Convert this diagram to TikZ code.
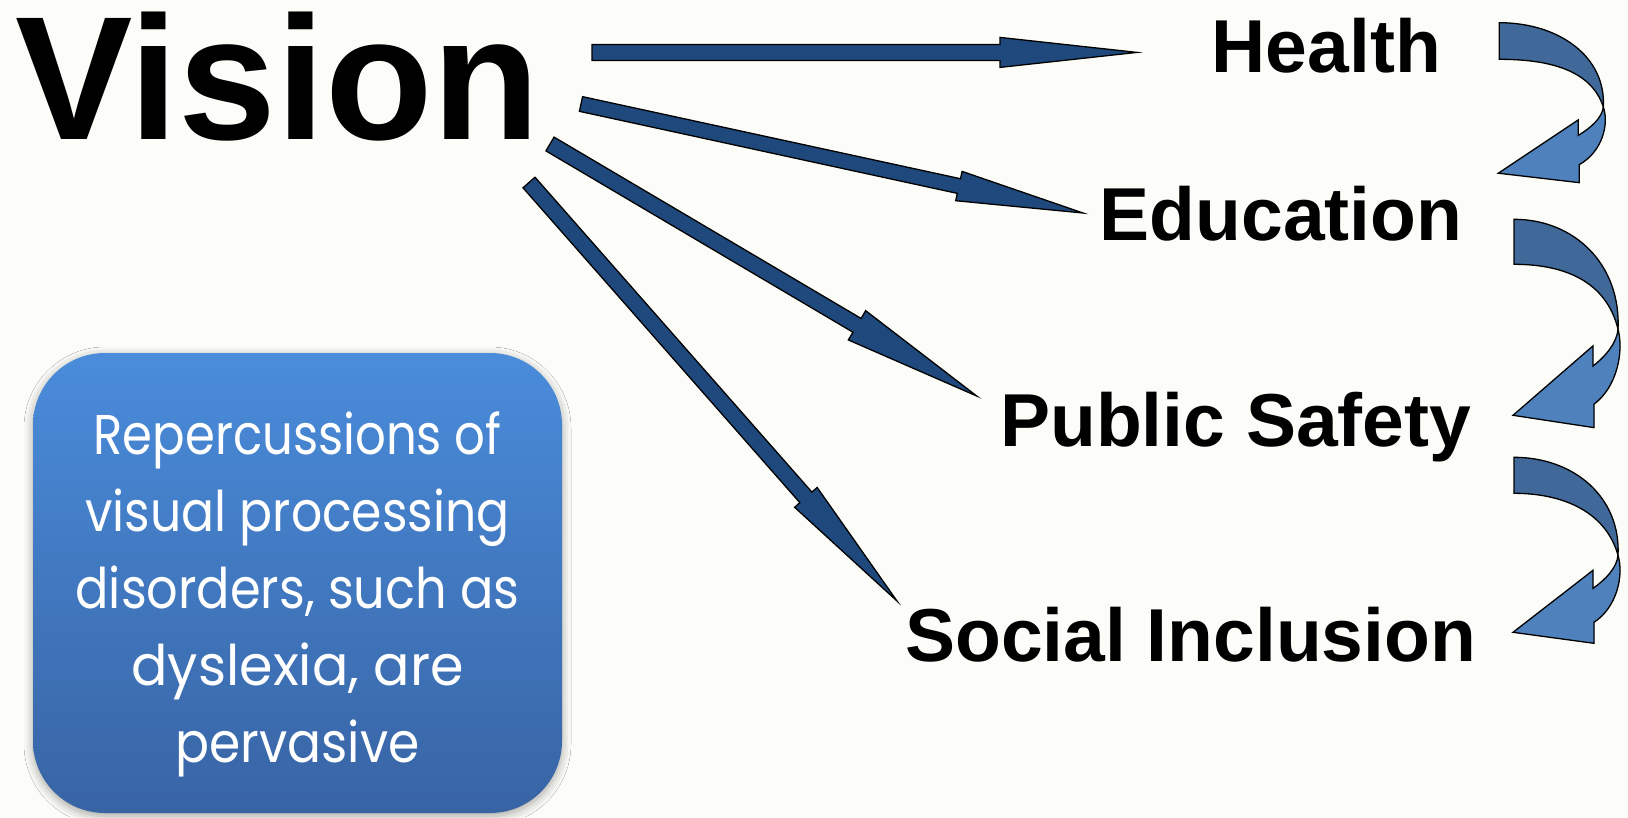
\documentclass[tikz,border=0pt]{standalone}
\usepackage{fontspec}
\setmainfont{Liberation Sans}
\newfontfamily\boxfont{Poppins}
\usetikzlibrary{calc,shadows.blur}

\definecolor{paper}{HTML}{FCFCF8}
\definecolor{shaftblue}{HTML}{1F497D}
\definecolor{ribbondark}{HTML}{406898}
\definecolor{ribbonlight}{HTML}{4F81BD}
\definecolor{boxtop}{HTML}{4A8CDB}
\definecolor{boxbottom}{HTML}{3864A4}

\tikzset{
  topic/.style={inner sep=0pt, anchor=base west, font=\bfseries\fontsize{75}{75}\selectfont},
  straight/.style={fill=shaftblue, draw=black, line width=1.3pt, line join=miter},
  ribbonback/.style={fill=ribbondark, draw=black, line width=1.3pt, line join=miter},
  ribbonfront/.style={fill=ribbonlight, draw=black, line width=1.3pt, line join=miter},
  boxline/.style={inner sep=0pt, anchor=base, text=white, font=\boxfont\fontsize{56}{56}\selectfont},
}

% block arrow: #1 tail, #2 tip, #3 half shaft width, #4 half head width,
% #5 head length, #6 name for the head base point
\newcommand\fatarrow[6]{%
  \coordinate (#6) at ($(#2)!#5!(#1)$);
  \draw[straight] ($(#1)!#3!90:(#2)$) -- ($(#6)!#3!90:(#2)$) -- ($(#6)!#4!90:(#2)$)
    -- (#2) -- ($(#6)!#4!-90:(#2)$) -- ($(#6)!#3!-90:(#2)$) -- ($(#1)!#3!-90:(#2)$) -- cycle;
}

% twisted ribbon arrow bending down and back to the left:
% #1,#2 tail top corner, #3 tail thickness, #4 vertical stretch
\newcommand\ribbonarrow[4]{%
  \begin{scope}[shift={(#1,#2)}]
    \draw[ribbonback] (0,0) .. controls (60,0) and (107,{40*#4}) .. (104,{98*#4})
      .. controls (92,{55*#4}) and (50,#3) .. (0,#3) -- cycle;
    \draw[ribbonfront] (104,{98*#4}) .. controls (110,{118*#4}) and (103,{150*#4}) .. (80,{165*#4})
      -- (80,{186*#4}) -- (-1,{175*#4}) -- (79,{113*#4}) -- (79,{131*#4})
      .. controls (92,{122*#4}) and (103,{110*#4}) .. (104,{98*#4}) -- cycle;
  \end{scope}}

\newcommand\fitline[2]{\resizebox{#1}{\height}{#2}}

\begin{document}
\begin{tikzpicture}[x=1pt, y=-1pt]
  \fill[paper] (0,0) rectangle (1628,817);
  \useasboundingbox (0,0) rectangle (1628,817);

  % title and topics
  \node[inner sep=0pt, anchor=base west, font=\bfseries\fontsize{176}{176}\selectfont] (vision) at (15,139.5) {Vision};
  \node[topic] (health) at (1211.5,72.7) {Health};
  \node[topic] (education) at (1099.5,240) {Education};
  \node[topic] (safety) at (1000,446) {Public Safety};
  \node[topic] (inclusion) at (905,661.5) {Social Inclusion};

  % block arrows fanning out from the title
  \coordinate (t1) at (592,52.4);   \coordinate (p1) at (1137,52.4);
  \coordinate (t2) at (581,104);    \coordinate (p2) at (1083,213);
  \coordinate (t3) at (550,144);    \coordinate (p3) at (976.7,396);
  \coordinate (t4) at (529,182.5);  \coordinate (p4) at (897,601);
  \fatarrow{t1}{p1}{8pt}{15pt}{137pt}{h1}
  \fatarrow{t2}{p2}{7.5pt}{15pt}{127pt}{h2}
  \fatarrow{t3}{p3}{8pt}{17pt}{139pt}{h3}
  \fatarrow{t4}{p4}{8pt}{15pt}{138pt}{h4}

  % ribbon arrows linking the topics
  \ribbonarrow{1499.3}{22.7}{36.6}{0.86}
  \ribbonarrow{1514}{219.3}{45}{1.12}
  \ribbonarrow{1514}{457.3}{36}{1}

  % text panel
  \node[draw=none, rounded corners=72pt, minimum width=529pt, minimum height=460pt,
        top color=boxtop, bottom color=boxbottom,
        blur shadow={shadow xshift=0pt, shadow yshift=-3pt, shadow blur radius=9pt, shadow opacity=35}]
        (panel) at (297.5,583) {};
  \node[boxline] (l1) at (297.5,454) {\fitline{408pt}{Repercussions of}};
  \node[boxline] (l2) at (297.5,531) {\fitline{424pt}{visual processing}};
  \node[boxline] (l3) at (297.5,608) {\fitline{444pt}{disorders, such as}};
  \node[boxline] (l4) at (297.5,685) {\fitline{332pt}{dyslexia, are}};
  \node[boxline] (l5) at (297.5,762) {\fitline{244pt}{pervasive}};
\end{tikzpicture}
\end{document}
